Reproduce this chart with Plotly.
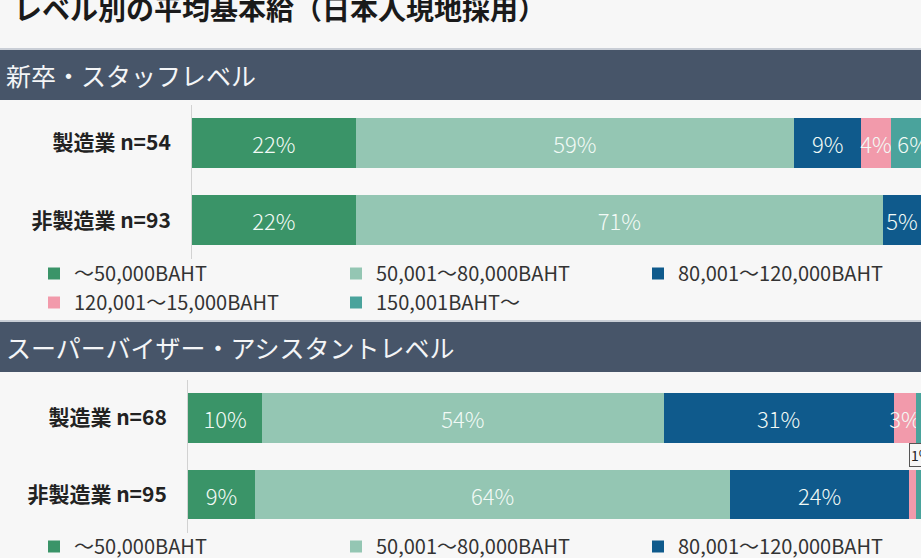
import plotly.graph_objects as go

#   Data
bands = ["～50,000BAHT", "50,001～80,000BAHT", "80,001～120,000BAHT",
         "120,001～15,000BAHT", "150,001BAHT～"]
colors = ["#3a9468", "#94c6b3", "#0f5a8c", "#f29aab", "#4aa39c"]

staff_cats = ["製造業 n=54", "非製造業 n=93"]
staff_vals = [
    [22, 22],
    [59, 71],
    [9, 5],
    [4, 1],
    [6, 1],
]

sv_cats = ["製造業 n=68", "非製造業 n=95"]
sv_vals = [
    [10, 9],
    [54, 64],
    [31, 24],
    [3, 1],
    [2, 2],
]

W, H = 921, 558
FONT = "Noto Sans CJK JP"
BG = "#f7f7f7"
HEAD = "#475569"


def py(px):
    # pixel row -> paper y
    return 1 - px / H


def px_x(px):
    return px / W


fig = go.Figure()

#   Bars
for chart, (cats, vals, xa, ya, lg) in enumerate([
        (staff_cats, staff_vals, "x", "y", "legend"),
        (sv_cats, sv_vals, "x2", "y2", "legend2")]):
    for i, name in enumerate(bands):
        fig.add_trace(go.Bar(
            y=cats, x=vals[i], name=name, orientation="h",
            marker=dict(color=colors[i], line=dict(width=0)),
            text=[f"{v}%" if v > 2 else "" for v in vals[i]],
            textposition="inside", insidetextanchor="middle",
            textfont=dict(family=FONT, size=22, color="#f2faf6", weight=300),
            xaxis=xa, yaxis=ya, legend=lg, showlegend=True,
            hoverinfo="skip",
        ))
    # callout for the first tiny segment of a row
    for j, cat in enumerate(cats):
        start = 0
        for i in range(len(bands)):
            v = vals[i][j]
            if v <= 1:
                fig.add_annotation(
                    x=start, y=cat, xref=xa, yref=ya,
                    text=f"{v}%", showarrow=False,
                    xanchor="left", yanchor="bottom", yshift=28,
                    font=dict(family=FONT, size=14, color="#222"),
                    bordercolor="#555", borderwidth=1, borderpad=1,
                )
                break
            start += v

axis_common = dict(showgrid=False, zeroline=False, showticklabels=False,
                   fixedrange=True)
ycommon = dict(showgrid=False, zeroline=False, showline=True,
               linecolor="#d2d2d2", linewidth=1, range=[1.5, -0.5],
               autorange=False, fixedrange=True, ticklabelstandoff=16,
               tickfont=dict(family=FONT, size=21, color="#222", weight="bold"))
legend_common = dict(orientation="h", x=px_x(34), xanchor="left",
                     yanchor="top", entrywidth=257, entrywidthmode="pixels",
                     bgcolor="rgba(0,0,0,0)", traceorder="normal",
                     font=dict(family=FONT, size=20, color="#333"))

fig.update_layout(
    width=W, height=H,
    margin=dict(l=0, r=0, t=0, b=0, autoexpand=False),
    paper_bgcolor=BG, plot_bgcolor=BG,
    barmode="stack", bargap=0.35,
    uniformtext=dict(mode="show", minsize=22),
    font=dict(family=FONT),
    xaxis=dict(domain=[px_x(192), 1], range=[0, 98.06], anchor="y", **axis_common),
    yaxis=dict(domain=[py(259), py(104.5)], anchor="x", **ycommon),
    xaxis2=dict(domain=[px_x(188), 1], range=[0, 98.65], anchor="y2", **axis_common),
    yaxis2=dict(domain=[py(532.75), py(379.75)], anchor="x2", **ycommon),
    legend=dict(y=py(254), **legend_common),
    legend2=dict(y=py(527), **legend_common),
)

#   Section header bands
for top, label in [(50, "新卒・スタッフレベル"), (322, "スーパーバイザー・アシスタントレベル")]:
    fig.add_shape(type="rect", xref="paper", yref="paper",
                  x0=0, x1=1, y0=py(top + 50), y1=py(top),
                  fillcolor=HEAD, line=dict(width=0), layer="below")
    fig.add_shape(type="line", xref="paper", yref="paper",
                  x0=0, x1=1, y0=py(top - 1), y1=py(top - 1),
                  line=dict(color="#c9ced6", width=2))
    fig.add_annotation(x=px_x(4), y=py(top + 25), xref="paper", yref="paper",
                       text=label, showarrow=False, xanchor="left",
                       yanchor="middle",
                       font=dict(family=FONT, size=25, color="#f4f5f7"))

#   Page title (cut off at the top)
fig.add_annotation(x=px_x(12), y=py(8), xref="paper", yref="paper",
                   text="<b>レベル別の平均基本給（日本人現地採用）</b>",
                   showarrow=False, xanchor="left", yanchor="middle",
                   font=dict(family=FONT, size=28, color="#1a1a1a"))

fig.write_html("out.html", config={"displayModeBar": False},
               post_script="document.body.style.margin='0';"
                           "document.body.style.overflow='hidden';")
